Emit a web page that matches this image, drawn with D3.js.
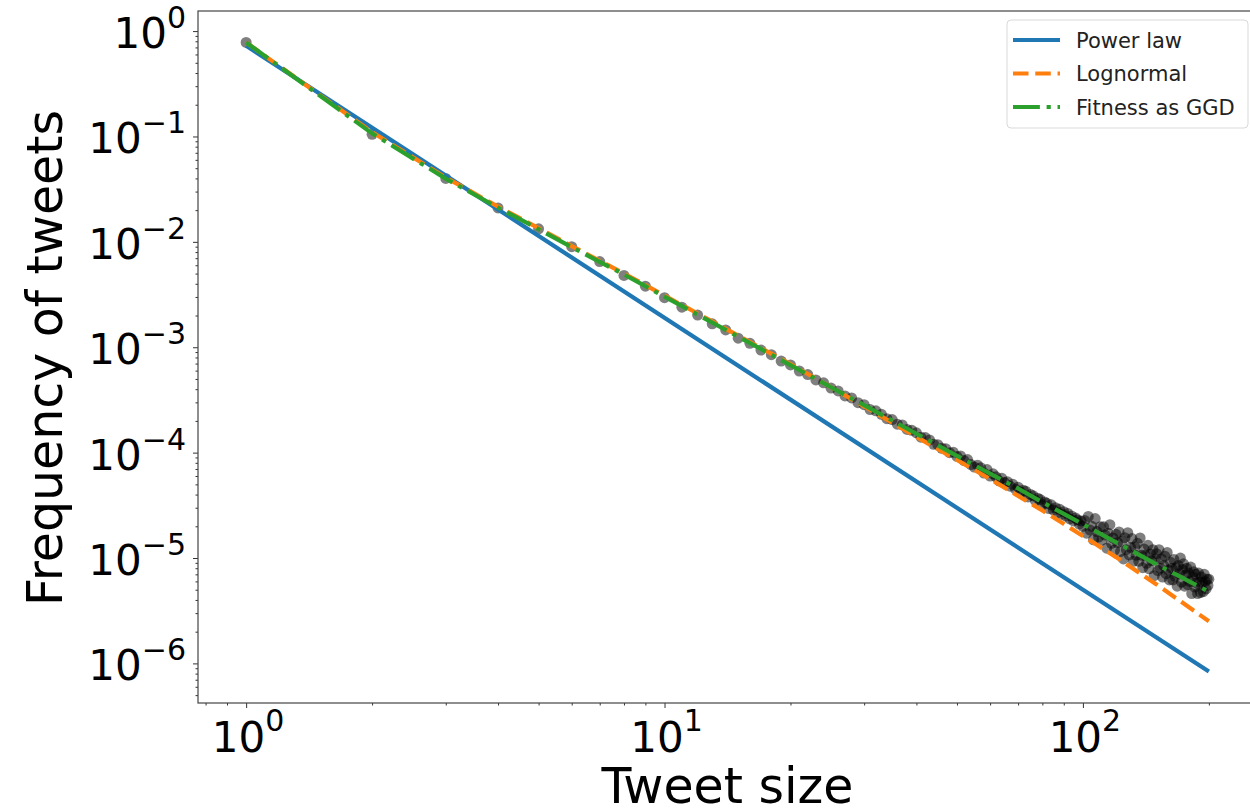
<!DOCTYPE html>
<html>
<head>
<meta charset="utf-8">
<script src="https://cdn.jsdelivr.net/npm/d3@7"></script>
<style>
  html, body { margin: 0; padding: 0; background: #fff; }
  svg { display: block; font-family: "DejaVu Sans", sans-serif; }
</style>
</head>
<body>
<svg id="chart" width="1250" height="809"></svg>
<script>
// Tweet size (number of tweets) and observed frequency
const tweetSizes = [
  1,2,3,4,5,6,7,8,9,10,11,12,13,14,15,16,17,18,19,20,
  21,22,23,24,25,26,27,28,29,30,31,32,33,34,35,36,37,38,39,40,
  41,42,43,44,45,46,47,48,49,50,51,52,53,54,55,56,57,58,59,60,
  61,62,63,64,65,66,67,68,69,70,71,72,73,74,75,76,77,78,79,80,
  81,82,83,84,85,86,87,88,89,90,91,92,93,94,95,96,97,98,99,100,
  101,102,103,104,105,106,107,108,109,110,111,112,113,114,115,116,117,118,119,120,
  121,122,123,124,125,126,127,128,129,130,131,132,133,134,135,136,137,138,139,140,
  141,142,143,144,145,146,147,148,149,150,151,152,153,154,155,156,157,158,159,160,
  161,162,163,164,165,166,167,168,169,170,171,172,173,174,175,176,177,178,179,180,
  181,182,183,184,185,186,187,188,189,190,191,192,193,194,195,196,197,198,199,200
];
const tweetFreq = [
  0.78, 0.105, 0.040, 0.021, 0.0133, 0.0090, 0.0065, 0.0048, 0.0038, 2.95e-3,
  2.40e-3, 2.02e-3, 1.67e-3, 1.46e-3, 1.22e-3, 1.09e-3, 9.4e-4, 8.5e-4, 7.4e-4, 6.8e-4,
  5.95e-4, 5.5e-4, 4.9e-4, 4.6e-4, 4.1e-4, 3.85e-4, 3.45e-4, 3.3e-4, 2.98e-4, 2.85e-4,
  2.56e-4, 2.49e-4, 2.31e-4, 2.10e-4, 2.06e-4, 1.86e-4, 1.83e-4, 1.66e-4, 1.63e-4, 1.54e-4,
  1.40e-4, 1.39e-4, 1.32e-4, 1.20e-4, 1.19e-4, 1.10e-4, 1.09e-4, 1.00e-4, 1.01e-4, 9.2e-5,
  9.3e-5, 8.4e-5, 8.6e-5, 7.7e-5, 7.3e-5, 7.6e-5, 7.2e-5, 6.4e-5, 6.9e-5, 6.0e-5,
  6.3e-5, 5.9e-5, 5.4e-5, 5.7e-5, 5.2e-5, 5.3e-5, 4.8e-5, 5.0e-5, 4.5e-5, 4.7e-5,
  4.2e-5, 4.4e-5, 4.3e-5, 3.8e-5, 4.0e-5, 3.9e-5, 3.5e-5, 3.7e-5, 3.6e-5, 3.2e-5,
  3.4e-5, 3.3e-5, 2.95e-5, 3.2e-5, 2.85e-5, 3.0e-5, 2.7e-5, 2.9e-5, 2.6e-5, 2.75e-5,
  2.5e-5, 2.65e-5, 2.35e-5, 2.5e-5, 2.25e-5, 2.4e-5, 2.3e-5, 2.1e-5, 2.25e-5, 2.0e-5,
  2.27e-5, 1.72e-5, 2.48e-5, 1.84e-5, 2.00e-5, 1.49e-5, 2.37e-5, 1.78e-5, 1.58e-5, 1.98e-5,
  1.48e-5, 1.98e-5, 1.65e-5, 1.24e-5, 1.72e-5, 2.07e-5, 1.38e-5, 1.55e-5, 1.19e-5, 1.68e-5,
  1.40e-5, 1.77e-5, 1.15e-5, 1.44e-5, 0.98e-5, 1.56e-5, 1.20e-5, 1.74e-5, 1.07e-5, 1.26e-5,
  1.53e-5, 0.93e-5, 1.28e-5, 1.06e-5, 1.38e-5, 0.93e-5, 1.55e-5, 1.06e-5, 0.81e-5, 1.22e-5,
  1.06e-5, 0.89e-5, 1.32e-5, 0.79e-5, 1.09e-5, 0.94e-5, 1.20e-5, 0.68e-5, 0.98e-5, 1.10e-5,
  0.76e-5, 1.20e-5, 0.80e-5, 0.98e-5, 0.66e-5, 0.85e-5, 1.04e-5, 0.71e-5, 1.13e-5, 0.77e-5,
  0.62e-5, 0.91e-5, 0.80e-5, 0.62e-5, 0.97e-5, 0.67e-5, 0.81e-5, 0.54e-5, 0.85e-5, 0.71e-5,
  1.00e-5, 0.59e-5, 0.78e-5, 0.88e-5, 0.54e-5, 0.69e-5, 0.80e-5, 0.56e-5, 0.72e-5, 0.60e-5,
  0.82e-5, 0.46e-5, 0.66e-5, 0.74e-5, 0.53e-5, 0.70e-5, 0.58e-5, 0.46e-5, 0.72e-5, 0.59e-5,
  0.47e-5, 0.66e-5, 0.59e-5, 0.48e-5, 0.70e-5, 0.60e-5, 0.51e-5, 0.63e-5, 0.55e-5, 0.63e-5
];

// Fitted power law (straight line in log-log space)
const powerLawX = [1, 200];
const powerLawY = [0.724, 8.37e-7];

// Fitted lognormal and GGD-fitness curves
const fitX = [1, 2, 3, 4, 5, 6, 7, 8, 9, 10, 12, 15, 20, 25, 30, 40, 50, 60, 70, 80, 100, 120, 150, 200];
const lognormalY = [0.780, 0.110, 0.0407, 0.0216, 0.0135, 0.00912, 0.00661, 0.00501, 0.00389, 0.00309,
  0.00209, 0.00129, 6.92e-4, 4.17e-4, 2.75e-4, 1.41e-4, 8.51e-5, 5.62e-5, 3.89e-5, 2.82e-5,
  1.62e-5, 1.02e-5, 5.62e-6, 2.51e-6];
const ggdY = [0.780, 0.107, 0.0398, 0.0211, 0.0132, 0.00891, 0.00646, 0.00490, 0.00380, 0.00302,
  0.00204, 0.00126, 6.76e-4, 4.17e-4, 2.82e-4, 1.51e-4, 9.33e-5, 6.31e-5, 4.57e-5, 3.39e-5,
  2.09e-5, 1.41e-5, 8.71e-6, 4.79e-6];

const xTickValues = [1, 10, 100];
const xTickExponents = ["0", "1", "2"];
const yTickValues = [1, 1e-1, 1e-2, 1e-3, 1e-4, 1e-5, 1e-6];
const yTickExponents = ["0", "\u22121", "\u22122", "\u22123", "\u22124", "\u22125", "\u22126"];

const seriesNames = ["Power law", "Lognormal", "Fitness as GGD"];
const seriesColors = ["#1f77b4", "#ff7f0e", "#2ca02c"];

// ---- layout ----
const svg = d3.select("#chart");
const plot = { left: 198, right: 1257, top: 11, bottom: 703 };
const lw = 4.2;
const dashes = ["none", `${3.7 * lw},${1.6 * lw}`, `${6.4 * lw},${1.6 * lw},${1 * lw},${1.6 * lw}`];

// log domains padded by 5% of the data span on each side
function paddedLogDomain(vals) {
  const lo = Math.log10(d3.min(vals)), hi = Math.log10(d3.max(vals));
  const pad = (hi - lo) * 0.05;
  return [Math.pow(10, lo - pad), Math.pow(10, hi + pad)];
}
const xDomain = paddedLogDomain(tweetSizes.concat(powerLawX, fitX));
const yDomain = paddedLogDomain(tweetFreq.concat(powerLawY, lognormalY, ggdY));

const x = d3.scaleLog().domain(xDomain).range([plot.left, plot.right]);
const y = d3.scaleLog().domain(yDomain).range([plot.bottom, plot.top]);

const clipId = "plot-clip";
svg.append("clipPath").attr("id", clipId)
  .append("rect")
  .attr("x", plot.left).attr("y", plot.top)
  .attr("width", plot.right - plot.left).attr("height", plot.bottom - plot.top);

const body = svg.append("g").attr("clip-path", `url(#${clipId})`);

// scatter of observed frequencies
body.append("g")
  .selectAll("circle")
  .data(tweetSizes.map((s, i) => ({ s, f: tweetFreq[i] })))
  .join("circle")
  .attr("cx", d => x(d.s))
  .attr("cy", d => y(d.f))
  .attr("r", 5.5)
  .attr("fill", "#000")
  .attr("fill-opacity", 0.5);

const line = d3.line().x(d => x(d[0])).y(d => y(d[1]));
const fits = [
  powerLawX.map((v, i) => [v, powerLawY[i]]),
  fitX.map((v, i) => [v, lognormalY[i]]),
  fitX.map((v, i) => [v, ggdY[i]])
];
fits.forEach((pts, i) => {
  body.append("path")
    .datum(pts)
    .attr("d", line)
    .attr("fill", "none")
    .attr("stroke", seriesColors[i])
    .attr("stroke-width", lw)
    .attr("stroke-dasharray", dashes[i])
    .attr("stroke-linecap", "butt")
    .attr("stroke-linejoin", "round");
});

// ---- axes ----
const tickColor = "#333";
const minorY = [];
for (let e = -7; e <= 0; e++) for (let m = 2; m <= 9; m++) {
  const v = m * Math.pow(10, e);
  if (v >= yDomain[0] && v <= yDomain[1]) minorY.push(v);
}
const minorX = [];
for (let e = -1; e <= 2; e++) for (let m = 2; m <= 9; m++) {
  const v = m * Math.pow(10, e);
  if (v >= xDomain[0] && v <= xDomain[1]) minorX.push(v);
}

const yAxisMinor = d3.axisLeft(y).tickValues(minorY).tickSize(2.5).tickFormat("");
const yAxisMajor = d3.axisLeft(y).tickValues(yTickValues).tickSize(5).tickFormat("");
const xAxisMinor = d3.axisBottom(x).tickValues(minorX).tickSize(2.5).tickFormat("");
const xAxisMajor = d3.axisBottom(x).tickValues(xTickValues).tickSize(5).tickFormat("");

[yAxisMinor, yAxisMajor].forEach(a => {
  const g = svg.append("g").attr("transform", `translate(${plot.left},0)`).call(a);
  g.select(".domain").remove();
  g.selectAll("line").attr("stroke", tickColor).attr("stroke-width", 1);
});
[xAxisMinor, xAxisMajor].forEach(a => {
  const g = svg.append("g").attr("transform", `translate(0,${plot.bottom})`).call(a);
  g.select(".domain").remove();
  g.selectAll("line").attr("stroke", tickColor).attr("stroke-width", 1);
});

// spines
svg.append("rect")
  .attr("x", plot.left).attr("y", plot.top)
  .attr("width", plot.right - plot.left).attr("height", plot.bottom - plot.top)
  .attr("fill", "none").attr("stroke", "#444").attr("stroke-width", 1.2);

// tick labels written as 10 with a superscript exponent
const tickFont = 42;
const supFont = 30;
const yLabels = svg.append("g").attr("font-size", tickFont).attr("fill", "#000");
yTickValues.forEach((v, i) => {
  const t = yLabels.append("text")
    .attr("x", 186)
    .attr("y", y(v) + 17)
    .attr("text-anchor", "end");
  t.append("tspan").text("10");
  t.append("tspan").attr("font-size", supFont).attr("dy", -20).text(yTickExponents[i]);
});
const xLabels = svg.append("g").attr("font-size", tickFont).attr("fill", "#000");
xTickValues.forEach((v, i) => {
  const t = xLabels.append("text")
    .attr("x", x(v) + 2)
    .attr("y", 752)
    .attr("text-anchor", "middle");
  t.append("tspan").text("10");
  t.append("tspan").attr("font-size", supFont).attr("dy", -21).text(xTickExponents[i]);
});

// axis titles
const titleFont = 49;
svg.append("text")
  .attr("x", (plot.left + plot.right) / 2)
  .attr("y", 803)
  .attr("text-anchor", "middle")
  .attr("font-size", titleFont)
  .text("Tweet size");
svg.append("text")
  .attr("transform", `translate(62,${(plot.top + plot.bottom) / 2 + 1}) rotate(-90)`)
  .attr("text-anchor", "middle")
  .attr("font-size", titleFont)
  .text("Frequency of tweets");

// ---- legend ----
const legend = svg.append("g");
legend.append("rect")
  .attr("x", 1007).attr("y", 20)
  .attr("width", 241).attr("height", 108)
  .attr("rx", 4)
  .attr("fill", "#fff").attr("fill-opacity", 0.8)
  .attr("stroke", "#d9d9d9").attr("stroke-width", 1);
seriesNames.forEach((name, i) => {
  const cy = 40 + i * 33.5;
  legend.append("line")
    .attr("x1", 1013).attr("x2", 1060)
    .attr("y1", cy).attr("y2", cy)
    .attr("stroke", seriesColors[i])
    .attr("stroke-width", lw)
    .attr("stroke-dasharray", dashes[i]);
  legend.append("text")
    .attr("x", 1076).attr("y", cy + 7.5)
    .attr("font-size", 21)
    .attr("fill", "#222")
    .text(name);
});
</script>
</body>
</html>
